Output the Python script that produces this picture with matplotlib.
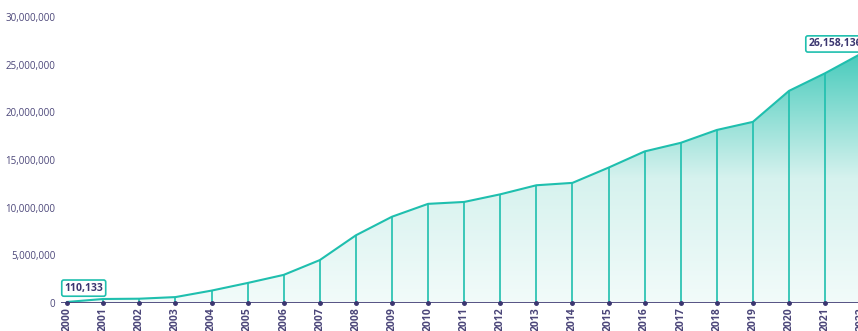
import numpy as np
import matplotlib.pyplot as plt
from matplotlib.colors import LinearSegmentedColormap
from matplotlib.patches import Polygon

# yearly totals
years = list(range(2000, 2023))
values = [110133, 420000, 450000, 620000, 1300000, 2100000, 2950000,
          4500000, 7100000, 9050000, 10400000, 10600000, 11400000,
          12350000, 12600000, 14200000, 15900000, 16800000, 18150000,
          19000000, 22250000, 24100000, 26158136]
yticks = [0, 5000000, 10000000, 15000000, 20000000, 25000000, 30000000]

line_col = '#1fbfae'
navy = '#3b3670'
text_col = '#4b4679'

plt.rcParams['font.family'] = ['Open Sans', 'DejaVu Sans']

fig = plt.figure(figsize=(8.58, 3.31), dpi=100)
ax = fig.add_axes([61/858, 1-303/331, (872-61)/858, (303-17)/331])
ax.set_xlim(1999.83, 2022.3)
ax.set_ylim(0, 30000000)

# gradient fill under the curve
cmap = LinearSegmentedColormap.from_list('fillgrad', ['#f2fbfa', '#d6f2ee', '#48cbbc'])
grad = np.linspace(0, 1, 256).reshape(-1, 1)
im = ax.imshow(grad, cmap=cmap, origin='lower', aspect='auto',
               extent=[years[0], years[-1], 0, max(values)], zorder=1)
poly = Polygon(list(zip(years, values)) + [(years[-1], 0), (years[0], 0)],
               closed=True, facecolor='none', edgecolor='none')
ax.add_patch(poly)
im.set_clip_path(poly)

# drop lines
ax.vlines(years, 0, values, color=line_col, lw=1.2, zorder=2)
ax.plot(years, values, color=line_col, lw=1.5, zorder=3)

# x axis line with dots
ax.axhline(0, color=navy, lw=1.2, zorder=4)
ax.plot(years, [0]*len(years), 'o', color=navy, ms=2.5, zorder=5, clip_on=False)

for s in ax.spines.values():
    s.set_visible(False)

ax.set_yticks(yticks)
ax.set_yticklabels([f'{v:,}' for v in yticks], color=text_col, fontsize=7)
ax.tick_params(axis='y', length=0, pad=4)
ax.set_xticks(years)
ax.set_xticklabels([str(y) for y in years], rotation=90, fontsize=7.5,
                   fontweight='bold', color=text_col, va='top')
ax.tick_params(axis='x', length=0, pad=3)

box = dict(boxstyle='round,pad=0.25,rounding_size=0.2', fc='white', ec=line_col, lw=1.2)
ax.annotate(f'{values[0]:,}', (years[0], values[0]), xytext=(-2, 6),
            textcoords='offset points', ha='left', va='bottom', fontsize=7.5,
            fontweight='bold', color=navy, bbox=box, zorder=6)
ax.annotate(f'{values[-1]:,}', (years[-1], values[-1]), xytext=(-38, 3),
            textcoords='offset points', ha='left', va='bottom', fontsize=7.5,
            fontweight='bold', color=navy, bbox=box, zorder=6)

fig.savefig('out.png', dpi=100)
